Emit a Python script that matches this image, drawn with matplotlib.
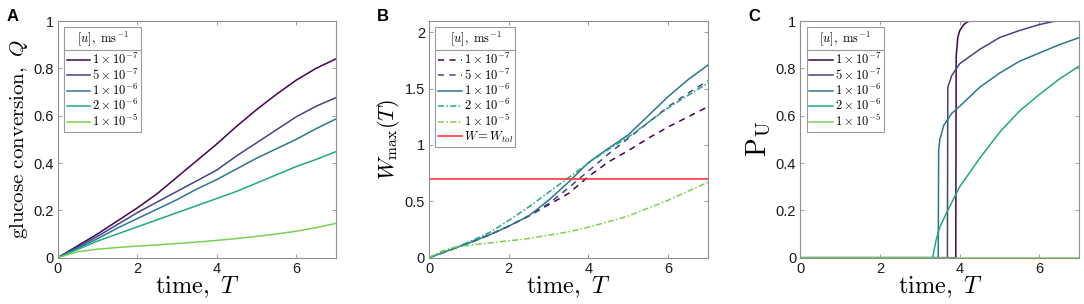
import numpy as np
import matplotlib

matplotlib.use('Agg')
import matplotlib.pyplot as plt  # noqa: E402
from matplotlib.lines import Line2D  # noqa: E402

plt.rcParams['font.family'] = ['Liberation Sans', 'DejaVu Sans']
plt.rcParams['mathtext.fontset'] = 'cm'

# --- data ---
conc_labels = [r'$1\times10^{-7}$', r'$5\times10^{-7}$', r'$1\times10^{-6}$',
               r'$2\times10^{-6}$', r'$1\times10^{-5}$']
conc_colors = ['#440154', '#414487', '#2a788e', '#22a884', '#7ad151']

t_grid = [0, 0.5, 1, 1.5, 2, 2.5, 3, 3.5, 4, 4.5, 5, 5.5, 6, 6.5, 7]

# panel A: glucose conversion Q
q_1e7 = [0, 0.05, 0.10, 0.155, 0.21, 0.27, 0.34, 0.41, 0.48, 0.555, 0.625, 0.69, 0.75, 0.80, 0.84]
q_5e7 = [0, 0.045, 0.09, 0.14, 0.19, 0.235, 0.28, 0.325, 0.37, 0.43, 0.485, 0.54, 0.595, 0.64, 0.676]
q_1e6 = [0, 0.04, 0.08, 0.125, 0.165, 0.205, 0.245, 0.29, 0.33, 0.375, 0.42, 0.46, 0.50, 0.545, 0.586]
q_2e6 = [0, 0.035, 0.07, 0.10, 0.13, 0.16, 0.19, 0.22, 0.25, 0.28, 0.315, 0.35, 0.385, 0.415, 0.448]
q_1e5 = [0, 0.025, 0.036, 0.043, 0.049, 0.054, 0.06, 0.066, 0.073, 0.081, 0.09, 0.10, 0.112, 0.127, 0.145]

# panel B: W_max(T)
w_1e7 = [0, 0.065, 0.13, 0.2, 0.28, 0.37, 0.47, 0.57, 0.72, 0.85, 0.95, 1.06, 1.16, 1.25, 1.34]
w_5e7 = [0, 0.065, 0.13, 0.2, 0.28, 0.37, 0.48, 0.62, 0.77, 0.92, 1.06, 1.2, 1.34, 1.46, 1.57]
w_1e6 = [0, 0.065, 0.13, 0.2, 0.28, 0.37, 0.51, 0.67, 0.845, 0.97, 1.09, 1.26, 1.43, 1.58, 1.71]
w_2e6 = [0, 0.07, 0.14, 0.22, 0.33, 0.45, 0.58, 0.71, 0.84, 0.96, 1.07, 1.2, 1.33, 1.44, 1.55]
t_w5 = [0, 0.25, 0.5, 0.75, 1, 1.5, 2, 2.5, 3, 3.5, 4, 4.5, 5, 5.5, 6, 6.5, 7]
w_1e5 = [0, 0.05, 0.08, 0.1, 0.11, 0.13, 0.15, 0.17, 0.2, 0.23, 0.27, 0.32, 0.37, 0.44, 0.51, 0.59, 0.67]
w_tol = 0.7

# panel C: P_U
t_p1 = [0, 3.9, 3.91, 3.95, 4.0, 4.1, 4.2, 4.27, 7]
p_1e7 = [0, 0, 0.85, 0.93, 0.96, 0.985, 0.997, 1.0, 1.0]
t_p2 = [0, 3.69, 3.70, 3.8, 4.0, 4.5, 5.0, 5.5, 6.0, 6.4, 7]
p_5e7 = [0, 0, 0.72, 0.77, 0.82, 0.88, 0.93, 0.96, 0.985, 1.0, 1.0]
t_p3 = [0, 3.46, 3.47, 3.5, 3.6, 3.8, 4.0, 4.5, 5.0, 5.5, 6.0, 6.5, 7]
p_1e6 = [0, 0, 0.45, 0.5, 0.56, 0.61, 0.64, 0.72, 0.78, 0.83, 0.865, 0.90, 0.93]
t_p4 = [0, 3.32, 3.4, 3.5, 3.7, 4.0, 4.5, 5.0, 5.5, 6.0, 6.5, 7]
p_2e6 = [0, 0, 0.07, 0.13, 0.2, 0.3, 0.42, 0.53, 0.62, 0.69, 0.755, 0.81]
t_p5 = [0, 7]
p_1e5 = [0, 0]

SPINE = '#8f8f8f'
TICK_COLOR = '#1a1a1a'


def style_axes(ax):
    for sp in ax.spines.values():
        sp.set_color(SPINE)
        sp.set_linewidth(0.8)
    ax.tick_params(direction='in', length=3, width=0.6, color=SPINE,
                   labelcolor=TICK_COLOR, labelsize=10.5,
                   top=True, right=True, pad=3)
    ax.set_xlim(0, 7)
    ax.set_xticks([0, 2, 4, 6])
    ax.set_xlabel(r'$\mathrm{time,}\ T$', fontsize=17.5, labelpad=-1)


def add_legend(ax, x0, y0):
    leg = ax.legend(loc='upper left', bbox_to_anchor=(x0, y0), borderaxespad=0,
                    title=r'$[u],\ \mathrm{ms}^{-1}$', title_fontsize=9,
                    fontsize=9, frameon=True, fancybox=False, framealpha=1,
                    edgecolor='#9a9a9a', handlelength=1.9, handletextpad=0.15,
                    labelspacing=0.02, borderpad=0.2)
    leg.get_frame().set_linewidth(0.8)
    leg._legend_box.sep = 3
    return leg


fig = plt.figure(figsize=(10.84, 3.04), dpi=100)
ax_a = fig.add_axes([0.0532, 0.1523, 0.2567, 0.7786])
ax_b = fig.add_axes([0.3958, 0.1523, 0.2574, 0.7786])
ax_c = fig.add_axes([0.7383, 0.1523, 0.2574, 0.7786])

# --- A ---
for q, col, lab in zip([q_1e7, q_5e7, q_1e6, q_2e6, q_1e5], conc_colors, conc_labels):
    ax_a.plot(t_grid, q, color=col, lw=1.1, label=lab)
style_axes(ax_a)
ax_a.set_ylim(0, 1)
ax_a.set_yticks([0, 0.2, 0.4, 0.6, 0.8, 1])
ax_a.set_yticklabels(['0', '0.2', '0.4', '0.6', '0.8', '1'])
ax_a.set_ylabel(r'$\mathrm{glucose\ conversion,}\ Q$', fontsize=15, labelpad=2)
leg_a = add_legend(ax_a, 0.023, 0.975)

# --- B ---
b_series = [(t_grid, w_1e7, (0, (4, 3.5))), (t_grid, w_5e7, (0, (4, 3.5))),
            (t_grid, w_1e6, '-'), (t_grid, w_2e6, (0, (4, 1.5, 1, 1.5))),
            (t_w5, w_1e5, (0, (4, 1.5, 1, 1.5)))]
for (tt, w, ls), col, lab in zip(b_series, conc_colors, conc_labels):
    ax_b.plot(tt, w, color=col, lw=1.1, ls=ls, label=lab)
ax_b.axhline(w_tol, color='#ff2a2a', lw=1.1, label=r'$W=W_{tol}$')
style_axes(ax_b)
ax_b.set_ylim(0, 2.1)
ax_b.set_yticks([0, 0.5, 1, 1.5, 2])
ax_b.set_yticklabels(['0', '0.5', '1', '1.5', '2'])
ax_b.set_ylabel(r'$W_{\max}(T)$', fontsize=16, labelpad=2)
leg_b = add_legend(ax_b, 0.023, 0.975)

# --- C ---
c_series = [(t_p1, p_1e7), (t_p2, p_5e7), (t_p3, p_1e6), (t_p4, p_2e6), (t_p5, p_1e5)]
for (tt, p), col, lab in zip(c_series, conc_colors, conc_labels):
    ax_c.plot(tt, p, color=col, lw=1.1, label=lab)
style_axes(ax_c)
ax_c.set_ylim(0, 1)
ax_c.set_yticks([0, 0.2, 0.4, 0.6, 0.8, 1])
ax_c.set_yticklabels(['0', '0.2', '0.4', '0.6', '0.8', '1'])
ax_c.set_ylabel(r'$\mathrm{P_U}$', fontsize=20, labelpad=2)
leg_c = add_legend(ax_c, 0.023, 0.975)

# panel letters
for x, letter in [(0.006, 'A'), (0.348, 'B'), (0.690, 'C')]:
    fig.text(x, 0.97, letter, fontsize=12, fontweight='bold', va='top', ha='left')

# separator line under each legend title (MATLAB-style legend header)
fig.canvas.draw()
renderer = fig.canvas.get_renderer()
inv = fig.transFigure.inverted()
for leg in (leg_a, leg_b, leg_c):
    box = leg.get_frame().get_window_extent(renderer)
    tbox = leg.get_title().get_window_extent(renderer)
    y_sep = tbox.y0 - 1.5
    (x0, y0), (x1, _) = inv.transform([(box.x0, y_sep), (box.x1, y_sep)])
    fig.add_artist(Line2D([x0, x1], [y0, y0], transform=fig.transFigure,
                          color='#9a9a9a', lw=0.8))

fig.savefig('out.png', dpi=100)
